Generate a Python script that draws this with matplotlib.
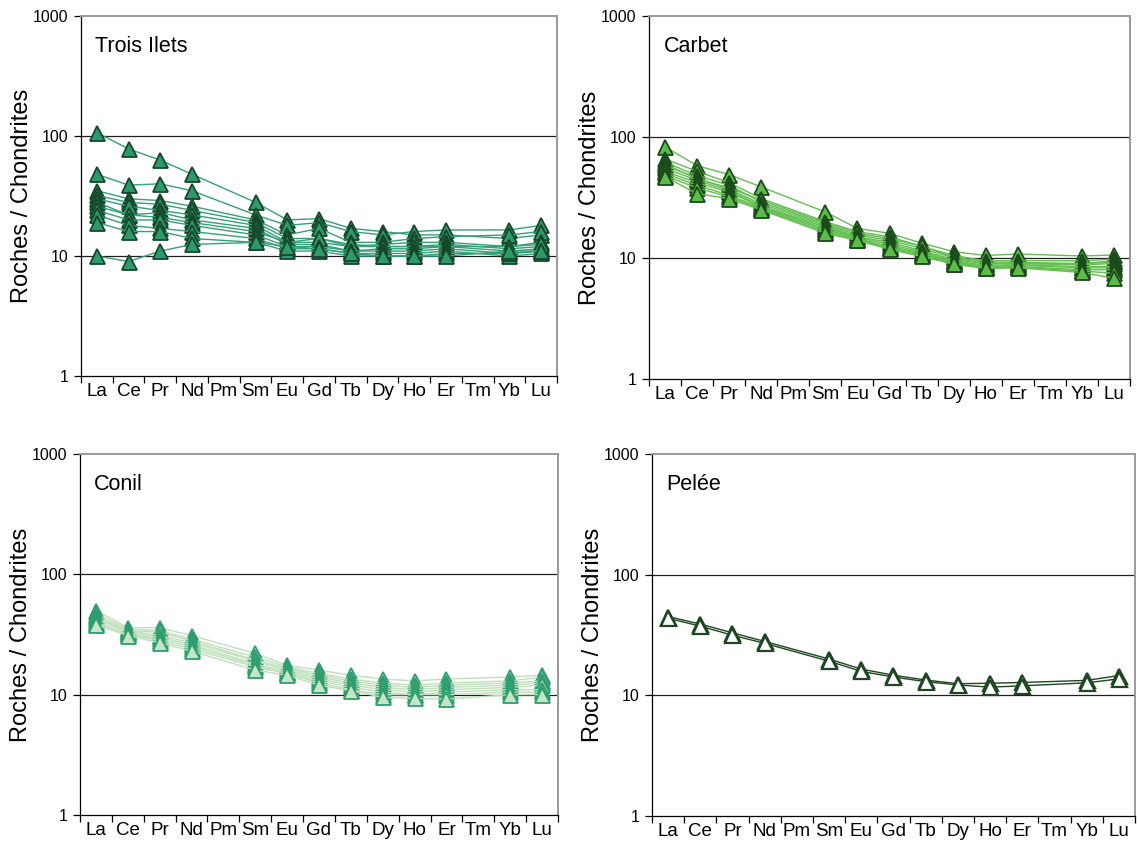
import matplotlib
matplotlib.use('Agg')
import matplotlib.pyplot as plt
import numpy as np

plt.rcParams['font.family'] = ['Liberation Sans', 'DejaVu Sans']

ELEMENTS = ['La', 'Ce', 'Pr', 'Nd', 'Pm', 'Sm', 'Eu', 'Gd', 'Tb', 'Dy', 'Ho', 'Er', 'Tm', 'Yb', 'Lu']
# elements actually analysed (Pm and Tm are skipped, lines connect across them)
MEASURED = ['La', 'Ce', 'Pr', 'Nd', 'Sm', 'Eu', 'Gd', 'Tb', 'Dy', 'Ho', 'Er', 'Yb', 'Lu']

# chondrite-normalised values, one row per sample, in MEASURED order
trois_ilets = [
    [107, 78, 63, 48, 28, 20, 20.5, 17, 16, 15, 15, 14, 15],
    [48, 39, 40, 35, 22, 18, 19, 16, 15, 16, 16.5, 16.5, 18],
    [35, 30, 29, 26, 20, 15, 17, 13, 13, 14, 14.5, 15, 16],
    [32, 28, 27, 24, 19, 14, 14, 12, 12.5, 13, 13, 12, 13],
    [30, 26, 24, 22, 18, 13, 13, 12, 12, 12, 12.5, 11.5, 12],
    [28, 22, 23, 20, 17, 12.5, 12.5, 11, 11.5, 11.5, 12, 11, 11.5],
    [26, 22, 21, 19, 16, 13, 14, 12.5, 12, 12, 12, 12, 12.5],
    [24, 20, 20, 18, 15, 12, 12, 11, 11, 11, 11.5, 10.5, 11],
    [22, 18, 17, 16, 14, 11.5, 11.5, 10.5, 10.5, 10.5, 11, 10, 10.5],
    [19, 16, 16, 14, 13, 11, 11, 10, 10, 10, 10.5, 10.5, 11],
    [10, 9, 11, 12.5, 13, 12, 11.5, 10.5, 10, 10, 10, 11, 11],
]

carbet = [
    [83, 58, 49, 38.7, 24, 17.6, 16, 13.3, 11.3, 10.5, 10.8, 10.4, 10.6],
    [66, 52, 42, 31, 20, 16.5, 15, 12.5, 10.5, 9.5, 9.5, 9.5, 9.8],
    [62, 48, 40, 29, 19, 15.5, 14, 12, 10, 9, 9, 9, 9.2],
    [60, 45, 38, 30, 19.5, 16, 14.5, 12.5, 10.2, 9.3, 9.2, 9, 9.5],
    [58, 46, 37, 28, 18.5, 15, 13.5, 11.5, 9.7, 9, 9, 8.8, 9],
    [55, 44, 36, 27, 18, 14.8, 13, 11.2, 9.5, 8.7, 8.8, 8.5, 8.5],
    [52, 42, 35, 26.5, 17.5, 14.5, 12.5, 11, 9.3, 8.5, 8.7, 8.3, 8.3],
    [50, 40, 33, 26, 17, 14.2, 12.2, 10.8, 9.2, 8.4, 8.5, 8, 8],
    [48, 38, 32, 25.5, 16.5, 14, 12, 10.5, 9, 8.3, 8.4, 7.8, 7.5],
    [47, 34, 31, 25, 16, 14, 11.8, 10.3, 8.9, 8.2, 8.3, 7.6, 6.8],
]

conil = [
    [50, 36, 36, 31, 22, 17.5, 16, 14.5, 13.5, 13, 13.5, 14, 14.5],
    [47, 35, 34, 29, 20.5, 17, 15, 13.5, 12.5, 12, 12.5, 13, 14],
    [45, 34, 33, 28, 19.5, 16.5, 14.5, 13, 12, 11.5, 12, 12.5, 13],
    [43, 34, 31, 27, 19, 16, 14, 12.5, 11.5, 11, 11.5, 12, 12.5],
    [42, 33, 30, 26, 18, 15.5, 13.5, 12, 11, 10.5, 11, 11.5, 12],
    [40, 32, 29, 25, 17.5, 15, 13, 11.5, 10.5, 10, 10.5, 11, 11],
    [39, 32, 28, 24, 17, 15, 12.5, 11, 10, 10, 10, 10.5, 10.5],
    [38, 31, 27, 23, 16, 14.5, 12, 10.8, 9.5, 9.3, 9.2, 10, 10],
]

pelee = [
    [45, 39, 33, 28, 20, 16.5, 14.7, 13.4, 12.5, 12.6, 12.8, 13.3, 14.6],
    [43.5, 37.5, 31.5, 27, 19.2, 15.8, 14.2, 13, 12.2, 11.7, 12, 12.7, 13.7],
]

# panel name, data, line colour, marker fill, marker edge, axes rect
panels = [
    ('Trois Ilets', trois_ilets, '#34a077', '#2e9a6c', '#16472a', [0.0712, 0.5529, 0.4183, 0.428]),
    ('Carbet', carbet, '#62bf50', '#5bbd48', '#1b4a1b', [0.5703, 0.5493, 0.4227, 0.4316]),
    ('Conil', conil, '#bfe0bb', '#c6e5c4', '#2e9e70', [0.0703, 0.0309, 0.4200, 0.4293]),
    ('Pelée', pelee, '#1e4620', '#ffffff', '#1e4620', [0.5729, 0.0297, 0.4244, 0.4304]),
]

fig = plt.figure(figsize=(11.38, 8.41), dpi=100)
xpos = [ELEMENTS.index(e) for e in MEASURED]

for name, rows, lcol, fcol, ecol, rect in panels:
    ax = fig.add_axes(rect)
    medge = 1.6 if name == 'Pelée' else 1.3
    for row in rows:
        ax.plot(xpos, row, color=lcol, lw=1.0, marker='^', markersize=10.8,
                markerfacecolor=fcol, markeredgecolor=ecol, markeredgewidth=medge)

    ax.set_yscale('log')
    ax.set_ylim(1, 1000)
    ax.set_xlim(-0.5, len(ELEMENTS) - 0.5)
    ax.set_yticks([1, 10, 100, 1000])
    ax.set_yticklabels(['1', '10', '100', '1000'], fontsize=11.5)
    ax.yaxis.set_minor_locator(matplotlib.ticker.NullLocator())
    for v in [10, 100]:
        ax.axhline(v, color='#202020', lw=0.9, zorder=0)

    # category labels between boundary tick marks
    ax.set_xticks(np.arange(-0.5, len(ELEMENTS), 1.0))
    ax.set_xticklabels([])
    ax.set_xticks(np.arange(len(ELEMENTS)), minor=True)
    ax.set_xticklabels(ELEMENTS, minor=True, fontsize=13.5)
    ax.tick_params(axis='x', which='minor', length=0, pad=5)
    ax.tick_params(axis='x', which='major', length=5, width=0.9, direction='out')
    ax.tick_params(axis='y', which='major', length=5, width=0.9, direction='out', pad=4)

    ax.spines['left'].set_color('black')
    ax.spines['bottom'].set_color('black')
    ax.spines['left'].set_linewidth(0.9)
    ax.spines['bottom'].set_linewidth(0.9)
    ax.spines['top'].set_color('#9a9a9a')
    ax.spines['right'].set_color('#9a9a9a')
    ax.spines['top'].set_linewidth(1.4)
    ax.spines['right'].set_linewidth(1.4)

    ax.set_ylabel('Roches / Chondrites', fontsize=17, labelpad=0)
    ax.text(0.03, 0.915, name, transform=ax.transAxes, fontsize=15.5,
            ha='left', va='center')

plt.savefig('out.png', dpi=100)
